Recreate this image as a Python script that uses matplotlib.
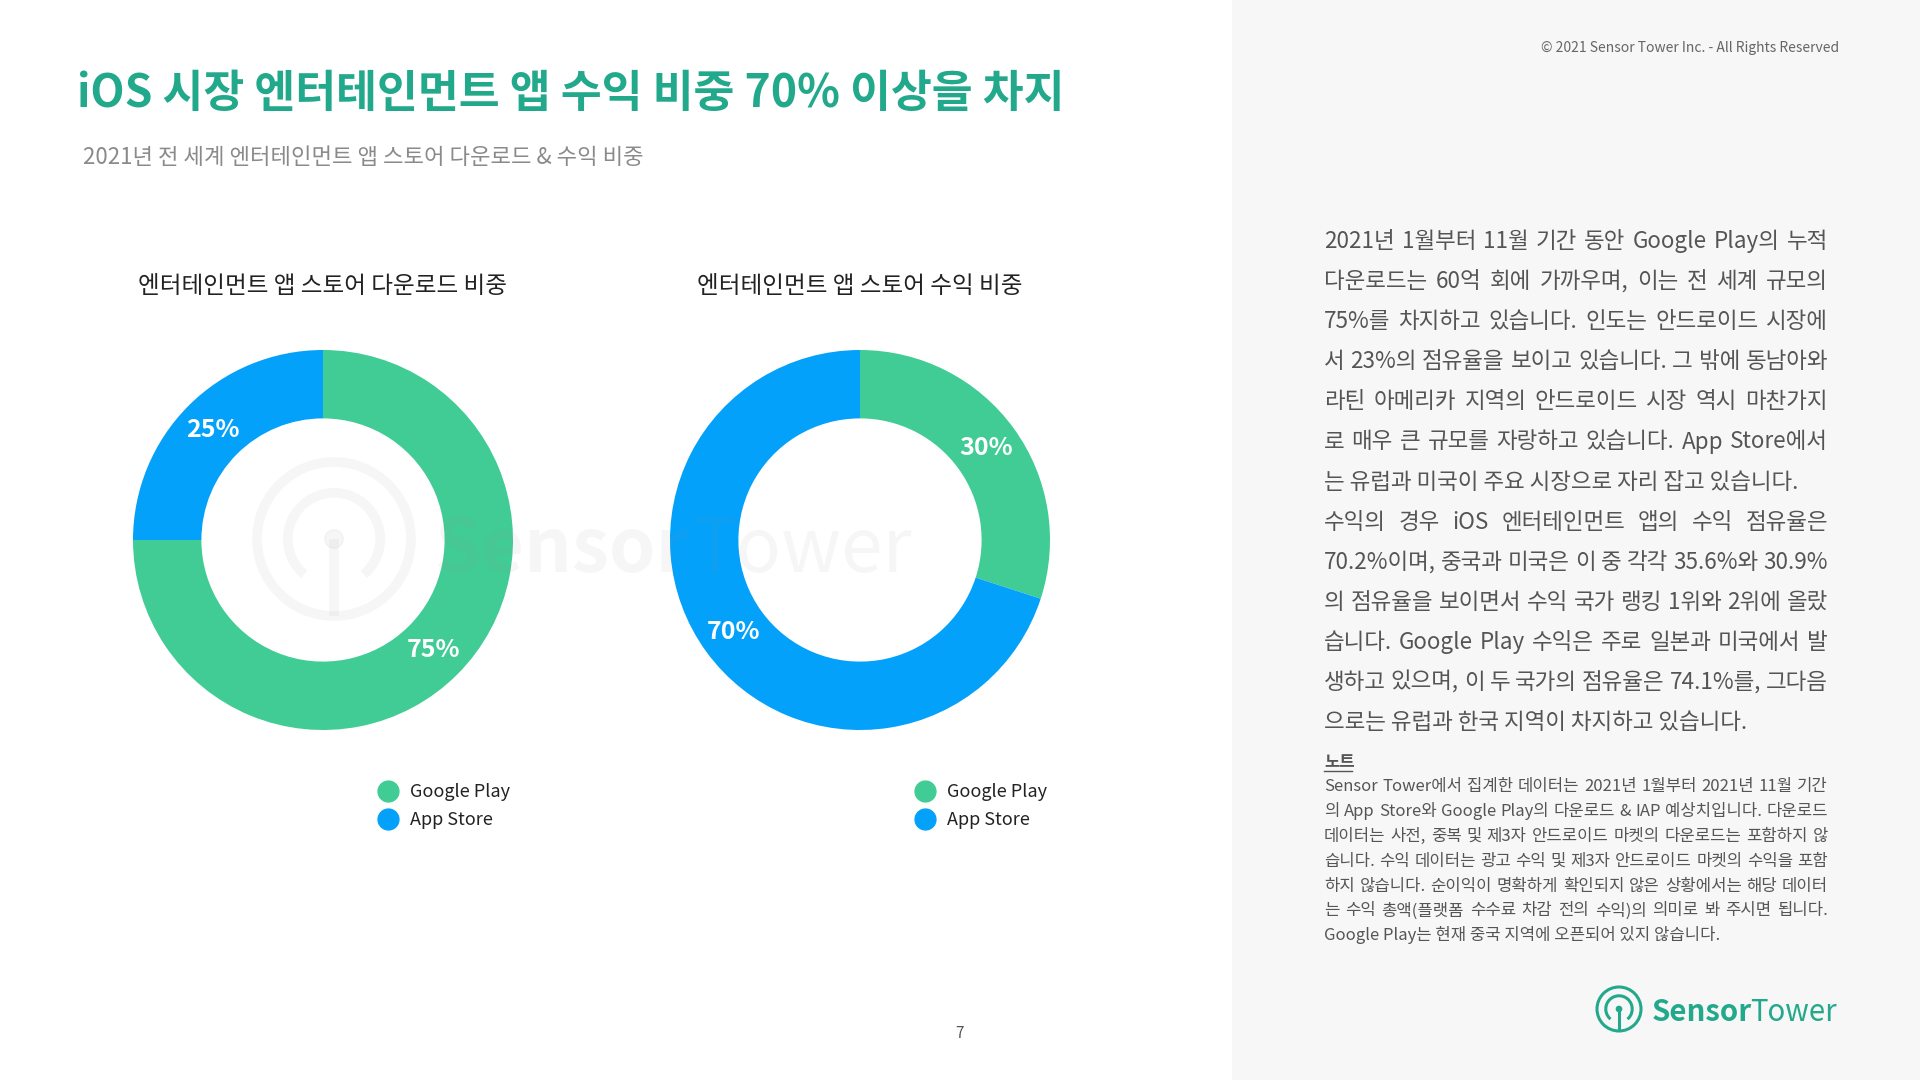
import matplotlib
matplotlib.use('Agg')
import matplotlib.pyplot as plt
from matplotlib.patches import Rectangle, Circle, Arc
from matplotlib.lines import Line2D

plt.rcParams['font.family'] = ['Noto Sans CJK KR', 'DejaVu Sans']

# data
platforms = ['Google Play', 'App Store']
download_share = [75, 25]
revenue_share = [30, 70]
chart_titles = ['엔터테인먼트 앱 스토어 다운로드 비중', '엔터테인먼트 앱 스토어 수익 비중']
colors = ['#41CC95', '#04A1FA']

title = 'iOS 시장 엔터테인먼트 앱 수익 비중 70% 이상을 차지'
subtitle = '2021년 전 세계 엔터테인먼트 앱 스토어 다운로드 & 수익 비중'
copyright_txt = '© 2021 Sensor Tower Inc. - All Rights Reserved'

body_lines = [
    '2021년 1월부터 11월 기간 동안 Google Play의 누적',
    '다운로드는 60억 회에 가까우며, 이는 전 세계 규모의',
    '75%를 차지하고 있습니다. 인도는 안드로이드 시장에',
    '서 23%의 점유율을 보이고 있습니다. 그 밖에 동남아와',
    '라틴 아메리카 지역의 안드로이드 시장 역시 마찬가지',
    '로 매우 큰 규모를 자랑하고 있습니다. App Store에서',
    '는 유럽과 미국이 주요 시장으로 자리 잡고 있습니다.',
    '수익의 경우 iOS 엔터테인먼트 앱의 수익 점유율은',
    '70.2%이며, 중국과 미국은 이 중 각각 35.6%와 30.9%',
    '의 점유율을 보이면서 수익 국가 랭킹 1위와 2위에 올랐',
    '습니다. Google Play 수익은 주로 일본과 미국에서 발',
    '생하고 있으며, 이 두 국가의 점유율은 74.1%를, 그다음',
    '으로는 유럽과 한국 지역이 차지하고 있습니다.',
]
body_just = [True] * 6 + [False] + [True] * 5 + [False]

note_lines = [
    'Sensor Tower에서 집계한 데이터는 2021년 1월부터 2021년 11월 기간',
    '의 App Store와 Google Play의 다운로드 & IAP 예상치입니다. 다운로드',
    '데이터는 사전, 중복 및 제3자 안드로이드 마켓의 다운로드는 포함하지 않',
    '습니다. 수익 데이터는 광고 수익 및 제3자 안드로이드 마켓의 수익을 포함',
    '하지 않습니다. 순이익이 명확하게 확인되지 않은 상황에서는 해당 데이터',
    '는 수익 총액(플랫폼 수수료 차감 전의 수익)의 의미로 봐 주시면 됩니다.',
    'Google Play는 현재 중국 지역에 오픈되어 있지 않습니다.',
]
note_just = [True] * 6 + [False]

W, H = 1920, 1080
teal = '#22A98B'

fig = plt.figure(figsize=(19.2, 10.8), dpi=100)
renderer = fig.canvas.get_renderer()
bg = fig.add_axes([0, 0, 1, 1])
bg.set_xlim(0, W)
bg.set_ylim(H, 0)
bg.axis('off')
bg.add_patch(Rectangle((1232, 0), W - 1232, H, color='#f7f7f7', lw=0))

# headings
bg.text(77, 107, title, fontsize=32, fontweight='black', color=teal, va='baseline')
bg.text(83, 164, subtitle, fontsize=16, color='#8a8a8a', va='baseline')
bg.text(1839, 52, copyright_txt, fontsize=10, color='#666666', ha='right', va='baseline')
bg.text(959, 1038, '7', fontsize=11, color='#555555', ha='center', va='baseline')


def donut(cx, cy, values, ttl):
    R = 190
    ax = fig.add_axes([(cx - R) / W, (H - cy - R) / H, 2 * R / W, 2 * R / H])
    wedges, _, autotexts = ax.pie(
        values, colors=colors, startangle=90, counterclock=False, radius=1,
        wedgeprops=dict(width=0.36, edgecolor='none'),
        autopct='%.0f%%', pctdistance=0.82,
        textprops=dict(color='white', fontsize=18, fontweight='bold'))
    ax.set_xlim(-1, 1)
    ax.set_ylim(-1, 1)
    ax.set_aspect('equal')
    ax.axis('off')
    bg.text(cx, 293, ttl, fontsize=17, fontweight='medium', color='#222222',
            ha='center', va='baseline')
    handles = [Line2D([], [], marker='o', ls='', markersize=15, color=c) for c in colors]
    ax.legend(handles, platforms, loc='upper left',
              bbox_to_anchor=(cx + 56, 783), bbox_transform=bg.transData,
              frameon=False, fontsize=13, handlelength=1, handletextpad=0.7,
              borderpad=0, borderaxespad=0, labelspacing=0.55,
              labelcolor='#222222')
    return ax


donut(323, 540, download_share, chart_titles[0])
donut(860, 540, revenue_share, chart_titles[1])


def icon(ax, cx, cy, r, color, lw, alpha=1.0):
    ax.add_patch(Circle((cx, cy), r, fill=False, ec=color, lw=lw, alpha=alpha))
    ax.add_patch(Arc((cx, cy), 1.2 * r, 1.2 * r, theta1=130, theta2=410, ec=color, lw=lw, alpha=alpha))
    ax.plot([cx, cx], [cy, cy + r], color=color, lw=lw, alpha=alpha, solid_capstyle='butt')
    ax.add_patch(Circle((cx, cy), 0.12 * r, color=color, alpha=alpha))


def wordmark(ax, x, y, width, color, alpha=1.0, gap=-1):
    # "Sensor" bold + "Tower" regular, scaled to span the given width
    a = ax.text(x, y, 'Sensor', fontsize=50, fontweight='bold', color=color, alpha=alpha, va='baseline')
    b = ax.text(x, y, 'Tower', fontsize=50, color=color, alpha=alpha, va='baseline')
    wa = a.get_window_extent(renderer).width
    wb = b.get_window_extent(renderer).width
    s = width / (wa + wb + gap)
    a.set_fontsize(50 * s)
    b.set_fontsize(50 * s)
    b.set_x(x + wa * s + gap)


# watermark overlay
ov = fig.add_axes([0, 0, 1, 1], zorder=5)
ov.set_xlim(0, W)
ov.set_ylim(H, 0)
ov.axis('off')
wm_col = '#888888'
icon(ov, 334, 539, 77, wm_col, 7, alpha=0.07)
wordmark(ov, 435, 572, 477, wm_col, alpha=0.07, gap=2)

# logo
icon(bg, 1619, 1009, 22, teal, 2.2)
wordmark(bg, 1652, 1021, 186, teal, gap=-2)


def justified(lines, flags, x0, x1, y0, dy, size, color):
    for i, line in enumerate(lines):
        y = y0 + i * dy
        words = line.split(' ')
        if not flags[i] or len(words) == 1:
            bg.text(x0, y, line, fontsize=size, color=color, va='baseline')
            continue
        texts = [bg.text(0, y, w, fontsize=size, color=color, va='baseline') for w in words]
        widths = [t.get_window_extent(renderer).width for t in texts]
        gap = (x1 - x0 - sum(widths)) / (len(words) - 1)
        x = x0
        for t, w in zip(texts, widths):
            t.set_x(x)
            x += w + gap


justified(body_lines, body_just, 1324, 1828, 248, 40.1, 16.2, '#555555')

bg.text(1324, 767, '노트', fontsize=12, fontweight='bold', color='#555555', va='baseline')
bg.plot([1324, 1352], [771, 771], color='#555555', lw=1)
justified(note_lines, note_just, 1324, 1828, 791, 24.9, 12, '#555555')

fig.savefig('out.png', dpi=100)
